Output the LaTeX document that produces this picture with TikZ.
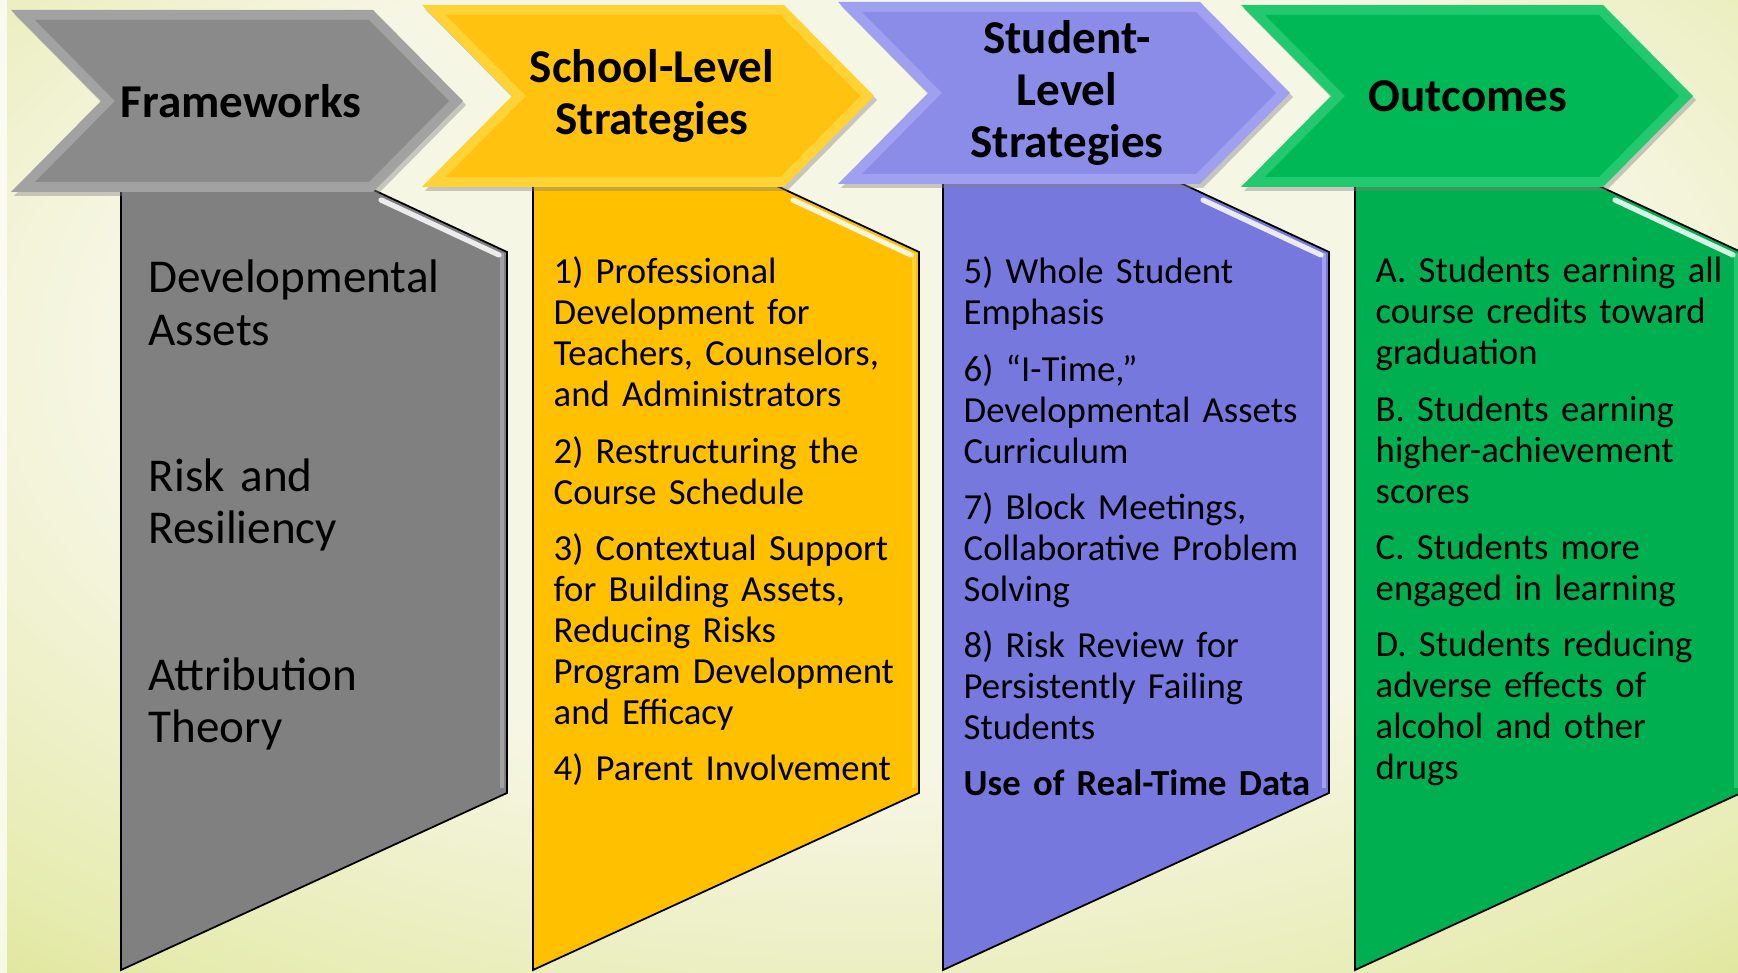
\documentclass[tikz,border=0pt]{standalone}
\usepackage{fontspec}
\setmainfont{Carlito}
\usetikzlibrary{shadows}

\definecolor{bgcream}{HTML}{F6F6E4}
\definecolor{bgmid}{HTML}{E6EBAE}
\definecolor{bggreen}{HTML}{CFD966}

\definecolor{greyhead}{HTML}{8A8A8A}
\definecolor{greyedge}{HTML}{A2A2A2}
\definecolor{greybody}{HTML}{808080}
\definecolor{goldhead}{HTML}{FFC20E}
\definecolor{goldedge}{HTML}{FFD235}
\definecolor{goldbody}{HTML}{FFC000}
\definecolor{bluehead}{HTML}{8A8CE8}
\definecolor{blueedge}{HTML}{9FA1F0}
\definecolor{bluebody}{HTML}{7678DD}
\definecolor{greenhead}{HTML}{00B956}
\definecolor{greenedge}{HTML}{22C96E}
\definecolor{greenbody}{HTML}{00B050}

\pgfdeclareradialshading{backdrop}{\pgfpoint{0bp}{10bp}}{%
  color(0bp)=(bgcream); color(22bp)=(bgcream); color(36bp)=(bgmid);
  color(49bp)=(bggreen); color(75bp)=(bggreen)}

\tikzset{
  heading/.style = {font=\bfseries\fontsize{13.4}{14.8}\selectfont,
                    align=center, inner sep=0pt},
  items/.style   = {font=\fontsize{10.45}{11.66}\selectfont, align=left,
                    text width=3.8cm, anchor=base west, inner sep=0pt},
  frames/.style  = {items, font=\fontsize{13.4}{14.8}\selectfont},
  outline/.style = {draw=black, line width=0.5pt}
}

% header arrow: #1 = x of top left corner, #2 = y of top edge, #3 = colour prefix
\newcommand{\headarrow}[3]{
  \begin{scope}[shift={(#1,#2)}]
    \fill[#3edge, drop shadow={shadow xshift=0.03cm, shadow yshift=-0.04cm, opacity=0.4}]
      (0,0) -- (3.62,0) -- (4.52,-0.91) -- (3.62,-1.82) -- (0,-1.82) -- (0.9,-0.91) -- cycle;
    \fill[#3head]
      (0.24,-0.10) -- (3.58,-0.10) -- (4.38,-0.91) -- (3.58,-1.72) -- (0.24,-1.72) -- (1.04,-0.91) -- cycle;
  \end{scope}
}

% lower panel: #1 = x of left edge, #2 = colour prefix
\newcommand{\bodypanel}[2]{
  \begin{scope}[shift={(#1,0)}]
    \fill[#2body] (0,8.0) -- (2.16,8.0) -- (3.86,7.21) -- (3.86,1.80) -- (0,0.03) -- cycle;
    \draw[#2edge, line width=1.2pt] (3.81,7.2) -- (3.81,1.85);
    \draw[outline] (0,8.0) -- (0,0.03) -- (3.86,1.80) -- (3.86,7.21) -- (2.16,8.0);
    \draw[white, line width=1.5pt, opacity=0.85, line cap=round] (2.6,7.73) -- (3.78,7.18);
  \end{scope}
}

\begin{document}
\begin{tikzpicture}
  \useasboundingbox (0,0) rectangle (17.38,9.73);
  \clip (0,0) rectangle (17.38,9.73);
  \shade[shading=backdrop] (0,0) rectangle (17.38,9.73);
  \fill[white, opacity=0.75] (0,0) rectangle (0.07,9.73);

  % lower panels
  \bodypanel{1.21}{grey}
  \bodypanel{5.33}{gold}
  \bodypanel{9.43}{blue}
  \bodypanel{13.55}{green}

  % header arrows
  \headarrow{0.11}{9.63}{grey}
  \headarrow{4.22}{9.68}{gold}
  \headarrow{8.38}{9.71}{blue}
  \headarrow{12.41}{9.68}{green}

  \node[heading] (frameworks) at (2.41,8.72) {Frameworks};
  \node[heading] (school)     at (6.52,8.77) {School-Level\\Strategies};
  \node[heading] (student)    at (10.67,8.80) {Student-\\Level\\Strategies};
  \node[heading] (outcomes)   at (14.68,8.77) {Outcomes};

  \node[frames] (theories) at (1.48,6.80)
    {Developmental\\Assets\\[27pt]Risk and\\Resiliency\\[27pt]Attribution\\Theory};
  \node[items] (schoolitems) at (5.53,6.89)
    {1) Professional\\Development for\\Teachers, Counselors,\\and Administrators\\[4.3pt]
     2) Restructuring the\\Course Schedule\\[4.3pt]
     3) Contextual Support\\for Building Assets,\\Reducing Risks\\Program Development\\and Efficacy\\[4.3pt]
     4) Parent Involvement};
  \node[items] (studentitems) at (9.63,6.89)
    {5) Whole Student\\Emphasis\\[4.3pt]
     6) “I-Time,”\\Developmental Assets\\Curriculum\\[4.3pt]
     7) Block Meetings,\\Collaborative Problem\\Solving\\[4.3pt]
     8) Risk Review for\\Persistently Failing\\Students\\[4.3pt]
     \textbf{Use of Real-Time Data}};
  \node[items] (outcomeitems) at (13.75,6.90)
    {A. Students earning all\\course credits toward\\graduation\\[4.3pt]
     B. Students earning\\higher-achievement\\scores\\[4.3pt]
     C. Students more\\engaged in learning\\[4.3pt]
     D. Students reducing\\adverse effects of\\alcohol and other\\drugs};
\end{tikzpicture}
\end{document}
